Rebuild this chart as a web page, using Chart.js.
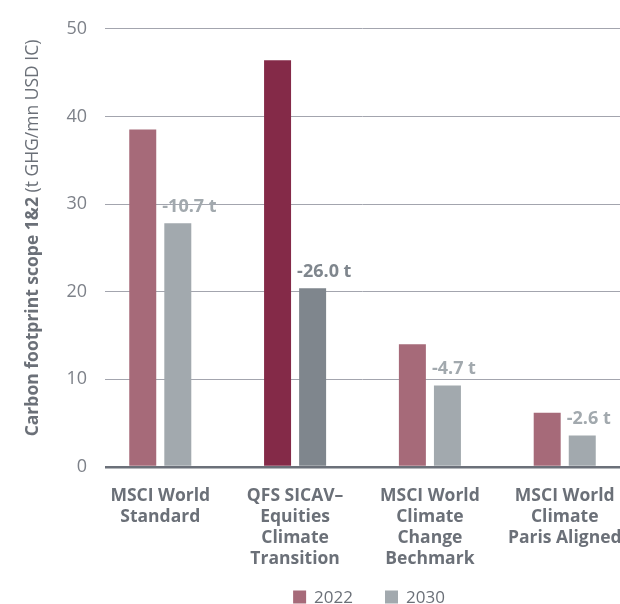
<!DOCTYPE html>
<html><head><meta charset="utf-8">
<script src="https://cdn.jsdelivr.net/npm/chart.js@4/dist/chart.umd.min.js"></script>
<style>html,body{margin:0;padding:0;background:#fff;overflow:hidden}#wrap{width:620px;height:604px;position:relative}</style>
</head><body><div id="wrap"><canvas id="c" width="620" height="604"></canvas></div>
<script>
const categories = [["MSCI World","Standard"],["QFS SICAV–","Equities","Climate","Transition"],["MSCI World","Climate","Change","Bechmark"],["MSCI World","Climate","Paris Aligned"]];
const seriesNames = ["2022","2030"];
const values2022 = [38.5, 46.4, 14.0, 6.2];
const values2030 = [27.8, 20.4, 9.3, 3.6];
const changeLabels = ["-10.7 t","-26.0 t","-4.7 t","-2.6 t"];
const yTicks = [0,10,20,30,40,50];
const highlightedIndex = 1;

const FONT = "'Open Sans', 'Noto Sans', sans-serif";
const C22 = '#A66A79', C22H = '#842A48', C30 = '#A2A9AE', C30H = '#7F868D';
const TEXT = '#6B7078';

const colors22 = categories.map((_, i) => i === highlightedIndex ? C22H : C22);
const colors30 = categories.map((_, i) => i === highlightedIndex ? C30H : C30);

const overlay = {
  id: 'overlay',
  afterDraw(chart) {
    const ctx = chart.ctx;
    const meta = chart.getDatasetMeta(1);
    ctx.save();
    ctx.font = 'bold 18px ' + FONT;
    ctx.textAlign = 'left';
    ctx.textBaseline = 'alphabetic';
    meta.data.forEach((bar, i) => {
      ctx.fillStyle = colors30[i];
      ctx.fillText(changeLabels[i], bar.x - bar.width / 2 - 2, bar.y - 11);
    });
    ctx.restore();

    ctx.save();
    const boldPart = 'Carbon footprint scope 1&2';
    const normPart = ' (t GHG/mn USD IC)';
    const fs = 17.5;
    ctx.font = 'bold ' + fs + 'px ' + FONT;
    const w1 = ctx.measureText(boldPart).width;
    ctx.font = fs + 'px ' + FONT;
    const w2 = ctx.measureText(normPart).width;
    const total = w1 + w2;
    const cx = 33, cy = 238;
    ctx.translate(cx, cy);
    ctx.rotate(-Math.PI / 2);
    ctx.textBaseline = 'middle';
    ctx.textAlign = 'left';
    ctx.fillStyle = TEXT;
    ctx.font = 'bold ' + fs + 'px ' + FONT;
    ctx.fillText(boldPart, -total / 2, 0);
    ctx.font = fs + 'px ' + FONT;
    ctx.fillText(normPart, -total / 2 + w1, 0);
    ctx.restore();

    ctx.save();
    ctx.font = '17px ' + FONT;
    ctx.textBaseline = 'middle';
    ctx.textAlign = 'left';
    const legendColors = [C22, C30];
    const box = 13, gapText = 8, gapItem = 32;
    const widths = seriesNames.map(n => box + gapText + ctx.measureText(n).width);
    const totalW = widths.reduce((a, b) => a + b, 0) + gapItem * (seriesNames.length - 1);
    let x = 369 - totalW / 2;
    const y = 597;
    seriesNames.forEach((n, i) => {
      ctx.fillStyle = legendColors[i];
      ctx.fillRect(x, y - box / 2, box, box);
      ctx.fillStyle = TEXT;
      ctx.fillText(n, x + box + gapText, y + 1);
      x += widths[i] + gapItem;
    });
    ctx.restore();
  }
};

new Chart(document.getElementById('c'), {
  type: 'bar',
  data: {
    datasets: [
      { label: seriesNames[0], data: values2022.map((v, i) => ({ x: i, y: v })), backgroundColor: colors22 },
      { label: seriesNames[1], data: values2030.map((v, i) => ({ x: i, y: v })), backgroundColor: colors30 }
    ]
  },
  options: {
    responsive: false,
    animation: false,
    devicePixelRatio: 1,
    categoryPercentage: 0.52,
    barPercentage: 0.77,
    layout: { padding: { top: 21, right: 0, bottom: 0, left: 0 } },
    plugins: { legend: { display: false }, tooltip: { enabled: false } },
    scales: {
      x: {
        type: 'linear',
        offset: false,
        min: -0.41, max: 3.41,
        grid: { display: false, offset: false },
        border: { display: false },
        afterBuildTicks: s => { s.ticks = categories.map((_, i) => ({ value: i })); },
        afterFit: s => { s.height = 137; s.paddingLeft = 0; s.paddingRight = 0; },
        ticks: {
          autoSkip: false,
          maxRotation: 0,
          minRotation: 0,
          padding: 10,
          color: TEXT,
          font: { family: FONT, size: 17.5, weight: 'bold', lineHeight: 1.21 },
          callback: v => { const i = Math.round(v); return categories[i] || ''; }
        }
      },
      y: {
        min: yTicks[0], max: yTicks[yTicks.length - 1],
        afterFit: s => { s.width = 105; },
        border: { display: false },
        grid: {
          drawTicks: false,
          color: c => c.tick.value === 0 ? '#6B7079' : '#A3A5AE',
          lineWidth: c => c.tick.value === 0 ? 2.5 : 1
        },
        ticks: {
          stepSize: 10,
          padding: 18,
          color: '#7D8189',
          font: { family: FONT, size: 18 }
        }
      }
    }
  },
  plugins: [overlay]
});
</script></body></html>
